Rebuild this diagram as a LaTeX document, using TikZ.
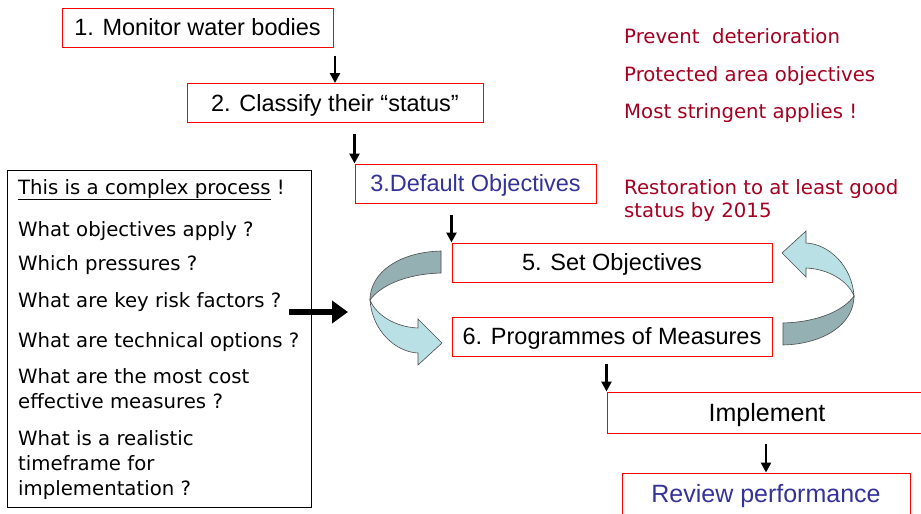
\documentclass[tikz,border=0pt]{standalone}
\usepackage{fontspec}
\setmainfont{Liberation Sans}
\newfontfamily\comicfont{DejaVu Sans}
\usetikzlibrary{arrows.meta}
\definecolor{boxred}{RGB}{255,0,0}
\definecolor{notered}{RGB}{165,0,33}
\definecolor{stepblue}{RGB}{51,51,153}
\definecolor{turnlight}{RGB}{185,224,228}
\definecolor{turndark}{RGB}{149,176,179}
\tikzset{
  stage/.style={draw=boxred, line width=1pt, inner sep=0pt, minimum height=39pt, text height=17.2pt, text depth=1pt, font=\fontsize{23.5}{27}\selectfont},
  bigstage/.style={stage, minimum height=41pt, text height=18.2pt, font=\fontsize{25}{30}\selectfont},
  flow/.style={line width=2.5pt, -{Triangle[length=10pt,width=10pt]}},
  query/.style={anchor=base west, inner sep=0pt, align=left, font=\comicfont\fontsize{19.7}{25}\selectfont},
  note/.style={anchor=base west, inner sep=0pt, align=left, text=notered, font=\comicfont\fontsize{19.7}{23}\selectfont},
}
\begin{document}
\begin{tikzpicture}[x=1pt,y=-1pt]
    \clip (0,0) rectangle (921,514);
    \fill[white] (0,0) rectangle (921,514);

    % the steps
    \node[stage,minimum width=271pt] (monitor) at (197.5,27.5) {1. Monitor water bodies};
    \node[stage,minimum width=296pt] (classify) at (335,103) {2. Classify their “status”};
    \node[stage,minimum width=241pt,text=stepblue] (default) at (475.5,183.5) {3.Default Objectives};
    \node[stage,minimum width=320pt] (setobj) at (612,262.5) {5. Set Objectives};
    \node[stage,minimum width=320pt] (pom) at (612,336.5) {6. Programmes of Measures};
    \node[bigstage,minimum width=320pt] (impl) at (767,412.5) {Implement};
    \node[bigstage,minimum width=288pt,text=stepblue] (review) at (766,493.5) {Review performance};

    \draw[flow,shorten <=8pt] (monitor.south -| classify.north) -- (classify.north);
    \draw[flow,shorten <=11pt] (classify.south -| default.north west) -- (default.north west);
    \draw[flow,shorten <=11pt] (default.south -| setobj.north west) -- (setobj.north west);
    \draw[flow,shorten <=7pt] (pom.south -| impl.north west) -- (impl.north west);
    \draw[flow,shorten <=10pt] (impl.south -| review.north) -- (review.north);

    % the questions
    \node[draw,line width=1pt,inner sep=0pt,minimum width=304pt,minimum height=337pt] (issues) at (159,338.5) {};
    \node[query] (q1) at (18,194) {\underline{This is a complex process} !};
    \node[query] (q2) at (18,236) {What objectives apply ?};
    \node[query] (q3) at (18,270) {Which pressures ?};
    \node[query] (q4) at (18,307) {What are key risk factors ?};
    \node[query] (q5) at (18,347) {What are technical options ?};
    \node[query] (q6) at (18,408) {What are the most cost\\effective measures ?};
    \node[query] (q7) at (18,495) {What is a realistic\\timeframe for\\implementation ?};

    \coordinate (cycin) at (348,312);
    \draw[line width=6pt,-{Triangle[length=16pt,width=22pt]},shorten <=8pt] (q4.east |- cycin) -- (cycin);

    % the notes
    \node[note] (n1) at (624,43) {Prevent\ \ deterioration};
    \node[note] (n2) at (624,81) {Protected area objectives};
    \node[note] (n3) at (624,118) {Most stringent applies !};
    \node[note] (n4) at (624,217) {Restoration to at least good\\status by 2015};

    % the turning arrows
    \foreach \ang in {0,180}{
      \begin{scope}[rotate around={\ang:(612,298)}]
        \filldraw[fill=turndark,draw=black!70,line width=0.6pt] (441,251) .. controls (400,252) and (370,272) .. (370,300)
          .. controls (380,286) and (405,274) .. (441,273) -- cycle;
        \filldraw[fill=turnlight,draw=black!70,line width=0.6pt] (370,300) .. controls (372,330) and (395,352) .. (418,353)
          -- (418,365) -- (442,343) -- (418,319) -- (418,328) .. controls (395,327) and (376,315) .. (370,300) -- cycle;
      \end{scope}
    }
\end{tikzpicture}
\end{document}
